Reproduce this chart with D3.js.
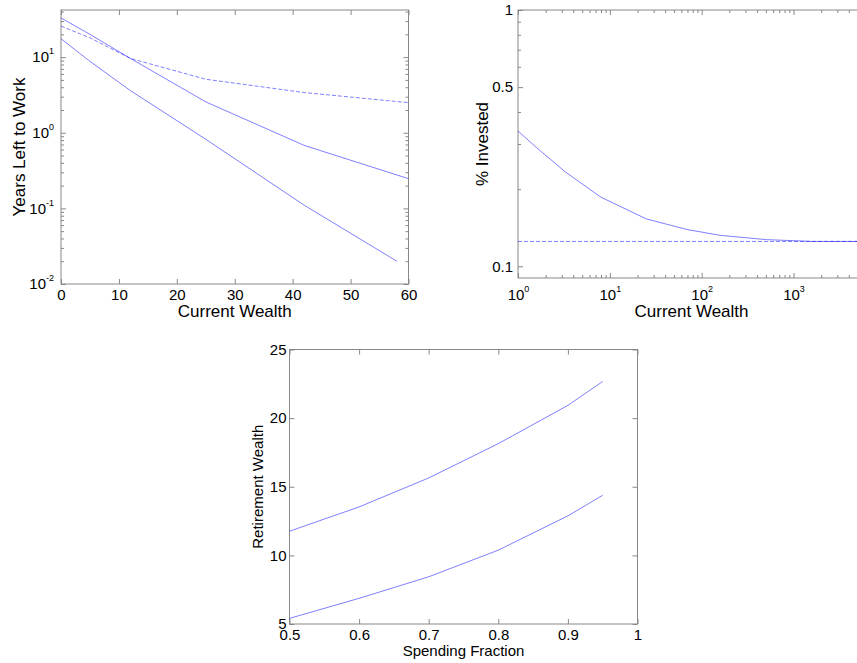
<!DOCTYPE html>
<html>
<head>
<meta charset="utf-8">
<script src="https://cdn.jsdelivr.net/npm/d3@7"></script>
<style>
  body { margin: 0; background: #fff; }
  svg { display: block; font-family: "Liberation Sans", Arial, sans-serif; }
</style>
</head>
<body>
<div id="chart"></div>
<script>
// years left to work vs current wealth (top left)
var workWealthA = [0, 5, 12, 25, 42, 60];
var workYearsA = [33, 20, 9.6, 2.56, 0.68, 0.247];
var workWealthB = [0, 5, 12, 25, 42, 58];
var workYearsB = [17.5, 8.8, 3.6, 0.82, 0.11, 0.02];
var workWealthDash = [0, 5, 12, 25, 42, 60];
var workYearsDash = [25.7, 18, 9.6, 5.1, 3.4, 2.5];
var workXTicks = [0, 10, 20, 30, 40, 50, 60];
var workYTicks = [0.01, 0.1, 1, 10];

// % invested vs current wealth (top right)
var investWealth = [1, 1.6, 3.3, 8, 25, 70, 160, 510, 1650, 6000];
var investShare = [0.337, 0.29, 0.233, 0.186, 0.153, 0.139, 0.132, 0.127, 0.125, 0.125];
var investWealthDash = [1, 6000];
var investShareDash = [0.125, 0.125];
var investXTicks = [1, 10, 100, 1000];
var investYTicks = [0.1, 0.5, 1];

// retirement wealth vs spending fraction (bottom)
var spendFraction = [0.5, 0.6, 0.7, 0.8, 0.9, 0.95];
var retireHigh = [11.76, 13.53, 15.64, 18.14, 20.93, 22.67];
var retireLow = [5.41, 6.87, 8.44, 10.38, 12.88, 14.38];
var spendXTicks = [0.5, 0.6, 0.7, 0.8, 0.9, 1];
var retireYTicks = [5, 10, 15, 20, 25];

var svg = d3.select("#chart").append("svg")
    .attr("width", 857)
    .attr("height", 663);

var lineColor = "#0000ff";
var frameColor = "#888";

// draws one axes box with inward ticks on all four sides
function drawPanel(p) {
    var g = svg.append("g");
    var x = p.x, y = p.y;
    var x0 = x.range()[0], x1 = x.range()[1];
    var y0 = y.range()[1], y1 = y.range()[0];

    function style(sel) {
        sel.select(".domain").remove();
        sel.selectAll(".tick line").attr("stroke", frameColor);
        sel.selectAll(".tick text").attr("fill", "#000").attr("font-size", 15);
    }

    function expLabels(sel) {
        sel.selectAll(".tick text").each(function(d) {
            var t = d3.select(this);
            t.text(null);
            t.append("tspan").text("10");
            t.append("tspan").attr("dy", -8).attr("font-size", 9)
                .text(String(Math.round(Math.log10(d))));
        });
    }

    // minor ticks for log axes
    if (p.xLog) {
        var mx = x.ticks().filter(function(v) { return p.xTicks.indexOf(v) < 0 && v >= p.xTicks[0]; });
        g.append("g").attr("transform", "translate(0," + y1 + ")")
            .call(d3.axisBottom(x).tickValues(mx).tickSize(-3).tickFormat("")).call(style);
        g.append("g").attr("transform", "translate(0," + y0 + ")")
            .call(d3.axisTop(x).tickValues(mx).tickSize(-3).tickFormat("")).call(style);
    }
    if (p.yLog) {
        var my = y.ticks().filter(function(v) { return p.yTicks.indexOf(v) < 0 && v >= p.yTicks[0]; });
        g.append("g").attr("transform", "translate(" + x0 + ",0)")
            .call(d3.axisLeft(y).tickValues(my).tickSize(-3).tickFormat("")).call(style);
        g.append("g").attr("transform", "translate(" + x1 + ",0)")
            .call(d3.axisRight(y).tickValues(my).tickSize(-3).tickFormat("")).call(style);
    }

    var xa = g.append("g").attr("transform", "translate(0," + y1 + ")")
        .call(d3.axisBottom(x).tickValues(p.xTicks).tickSize(-5).tickPadding(p.xPad).tickFormat(p.xFormat || null))
        .call(style);
    if (p.xExp) xa.call(expLabels);
    g.append("g").attr("transform", "translate(0," + y0 + ")")
        .call(d3.axisTop(x).tickValues(p.xTicks).tickSize(-5).tickFormat("")).call(style);

    var ya = g.append("g").attr("transform", "translate(" + x0 + ",0)")
        .call(d3.axisLeft(y).tickValues(p.yTicks).tickSize(-5).tickPadding(p.yPad).tickFormat(p.yFormat || null))
        .call(style);
    if (p.yExp) ya.call(expLabels);
    g.append("g").attr("transform", "translate(" + x1 + ",0)")
        .call(d3.axisRight(y).tickValues(p.yTicks).tickSize(-5).tickFormat("")).call(style);

    g.append("rect")
        .attr("x", x0).attr("y", y0)
        .attr("width", x1 - x0).attr("height", y1 - y0)
        .attr("fill", "none").attr("stroke", frameColor);

    var line = d3.line().x(function(d) { return x(d[0]); }).y(function(d) { return y(d[1]); });
    p.series.forEach(function(s) {
        g.append("path")
            .datum(d3.zip(s.xs, s.ys))
            .attr("d", line)
            .attr("fill", "none")
            .attr("stroke", lineColor)
            .attr("stroke-opacity", 0.5)
            .attr("stroke-width", 1)
            .attr("stroke-dasharray", s.dash ? "4,2" : null);
    });

    g.append("text")
        .attr("x", (x0 + x1) / 2).attr("y", p.xLabelY)
        .attr("text-anchor", "middle").attr("font-size", p.labelSize)
        .text(p.xLabel);
    g.append("text")
        .attr("transform", "translate(" + p.yLabelX + "," + ((y0 + y1) / 2) + ") rotate(-90)")
        .attr("text-anchor", "middle").attr("font-size", p.labelSize)
        .text(p.yLabel);
}

drawPanel({
    x: d3.scaleLinear().domain([0, 60]).range([61, 408.5]),
    y: d3.scaleLog().domain([0.01, 42]).range([284, 10]),
    yLog: true,
    xTicks: workXTicks, yTicks: workYTicks,
    xPad: 5.5, yPad: 7, yExp: true,
    series: [
        {xs: workWealthA, ys: workYearsA},
        {xs: workWealthB, ys: workYearsB},
        {xs: workWealthDash, ys: workYearsDash, dash: true}
    ],
    xLabel: "Current Wealth", xLabelY: 317,
    yLabel: "Years Left to Work", yLabelX: 25,
    labelSize: 17
});

drawPanel({
    x: d3.scaleLog().domain([1, 6000]).range([518, 865]),
    y: d3.scaleLog().domain([0.09, 1]).range([278, 10]),
    xLog: true, yLog: true,
    xTicks: investXTicks, yTicks: investYTicks,
    xPad: 11, yPad: 5, xExp: true,
    yFormat: function(d) { return String(d); },
    series: [
        {xs: investWealth, ys: investShare},
        {xs: investWealthDash, ys: investShareDash, dash: true}
    ],
    xLabel: "Current Wealth", xLabelY: 317,
    yLabel: "% Invested", yLabelX: 488,
    labelSize: 17
});

drawPanel({
    x: d3.scaleLinear().domain([0.5, 1]).range([289.5, 637.5]),
    y: d3.scaleLinear().domain([5, 25]).range([624, 349.5]),
    xTicks: spendXTicks, yTicks: retireYTicks,
    xPad: 5.5, yPad: 3,
    xFormat: function(d) { return String(d); },
    series: [
        {xs: spendFraction, ys: retireHigh},
        {xs: spendFraction, ys: retireLow}
    ],
    xLabel: "Spending Fraction", xLabelY: 656,
    yLabel: "Retirement Wealth", yLabelX: 263,
    labelSize: 15
});
</script>
</body>
</html>
